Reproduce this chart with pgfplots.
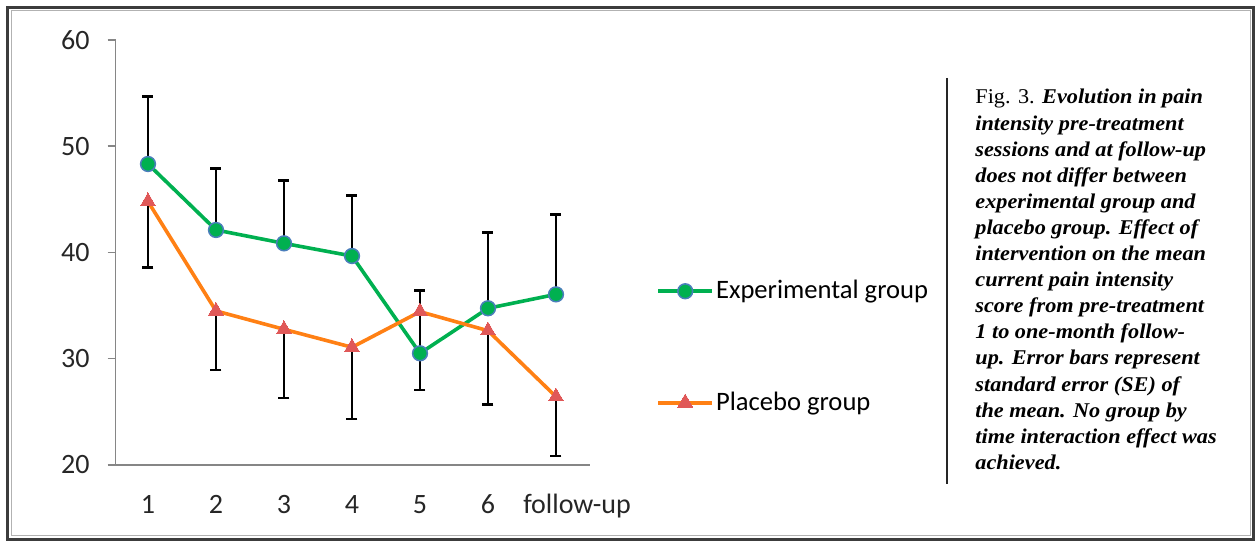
\documentclass[border=0pt]{standalone}
\usepackage{pgfplots}
\pgfplotsset{compat=1.18}
\usepackage{fontspec}
\setmainfont{Liberation Serif}
\newfontfamily\capfont{Liberation Serif}[FakeStretch=1.06]
\newfontfamily\calibri{Carlito}
\definecolor{egreen}{RGB}{0,176,80}
\definecolor{eblue}{RGB}{74,126,187}
\definecolor{porange}{RGB}{255,128,20}
\definecolor{pred}{RGB}{224,88,88}
\definecolor{axgray}{RGB}{134,134,134}
\begin{document}
\begin{tikzpicture}
\path[use as bounding box] (0,0) rectangle (627.5pt,270.5pt);
\begin{scope}[x=0.5pt,y=-0.5pt,shift={(0pt,270.5pt)}]
\draw[line width=1.25pt, color={rgb,255:red,60;green,60;blue,60}] (7.5,7.5) rectangle (1253.5,539.5);
\draw[line width=0.5pt, gray!60] (11,11) rectangle (1250,536);
\draw[line width=1pt, black!85] (947,78) -- (947,484);
\node[anchor=north west, inner sep=0pt, align=left,
  font=\capfont\bfseries\itshape\fontsize{10.5}{13.05}\selectfont] at (975,89) {%
{\capfont\mdseries\upshape Fig. 3.} Evolution in pain\\
intensity pre-treatment\\
sessions and at follow-up\\
does not differ between\\
experimental group and\\
placebo group. Effect of\\
intervention on the mean\\
current pain intensity\\
score from pre-treatment\\
1 to one-month follow-\\
up. Error bars represent\\
standard error (SE) of\\
the mean. No group by\\
time interaction effect was\\
achieved.};
\end{scope}
\begin{axis}[
  at={(57.85pt,38pt)}, anchor=south west,
  scale only axis, width=237.15pt, height=212.5pt,
  xmin=-0.475, xmax=6.5, ymin=20, ymax=60,
  axis x line=bottom, axis y line=left,
  axis line style={-, axgray, line width=0.75pt},
  xtick={0,...,5}, xticklabels={1,2,3,4,5,6},
  extra x ticks={6.31}, extra x tick labels={follow-up},
  extra x tick style={xtick style={draw=none}},
  ytick={20,30,40,50,60},
  tick align=outside, major tick length=4pt,
  xtick style={draw=none}, ytick style={axgray, line width=0.75pt},
  ticklabel style={font=\calibri\fontsize{14}{16}\selectfont, text=black!85},
  /pgf/number format/assume math mode=true,
  yticklabel style={anchor=east, inner sep=0pt, xshift=-8.85pt},
  xticklabel style={anchor=base, inner sep=0pt, yshift=-20.5pt},
  legend style={at={(axis description cs:1.1392,0.2777)}, anchor=west, draw=none, fill=none,
    inner sep=0pt, font=\calibri\fontsize{13.3}{15}\selectfont, row sep=43pt,
    nodes={inner sep=1pt}},
  legend cell align=left,
  legend image code/.code={\draw[#1, mark repeat=2, mark phase=2] plot coordinates {(0pt,0pt) (13.5pt,0pt) (27pt,0pt)};},
  clip=false,
]
\addplot[egreen, line width=1.8pt, mark=*, mark size=3.7pt,
  mark options={fill=egreen, draw=eblue, line width=0.75pt},
  error bars/.cd, y dir=plus, y explicit,
  error bar style={black, line width=1.3pt},
  error mark options={black, line width=1.3pt, mark size=2.75pt, rotate=90}]
coordinates {
(0,48.33) +- (0,6.33)
(1,42.12) +- (0,5.78)
(2,40.86) +- (0,5.94)
(3,39.67) +- (0,5.71)
(4,30.51) +- (0,5.90)
(5,34.75) +- (0,7.12)
(6,36.06) +- (0,7.50)
};
\addlegendentry{Experimental group}
\addplot[porange, line width=1.8pt, mark=triangle*, mark size=4.3pt,
  mark options={fill=pred, draw=pred, line width=0pt},
  error bars/.cd, y dir=minus, y explicit,
  error bar style={black, line width=1.3pt},
  error mark options={black, line width=1.3pt, mark size=2.75pt, rotate=90}]
coordinates {
(0,44.80) +- (0,6.20)
(1,34.50) +- (0,5.56)
(2,32.77) +- (0,6.46)
(3,31.08) +- (0,6.75)
(4,34.43) +- (0,7.37)
(5,32.64) +- (0,6.96)
(6,26.43) +- (0,5.58)
};
\addlegendentry{Placebo group}
\end{axis}
\end{tikzpicture}
\end{document}
